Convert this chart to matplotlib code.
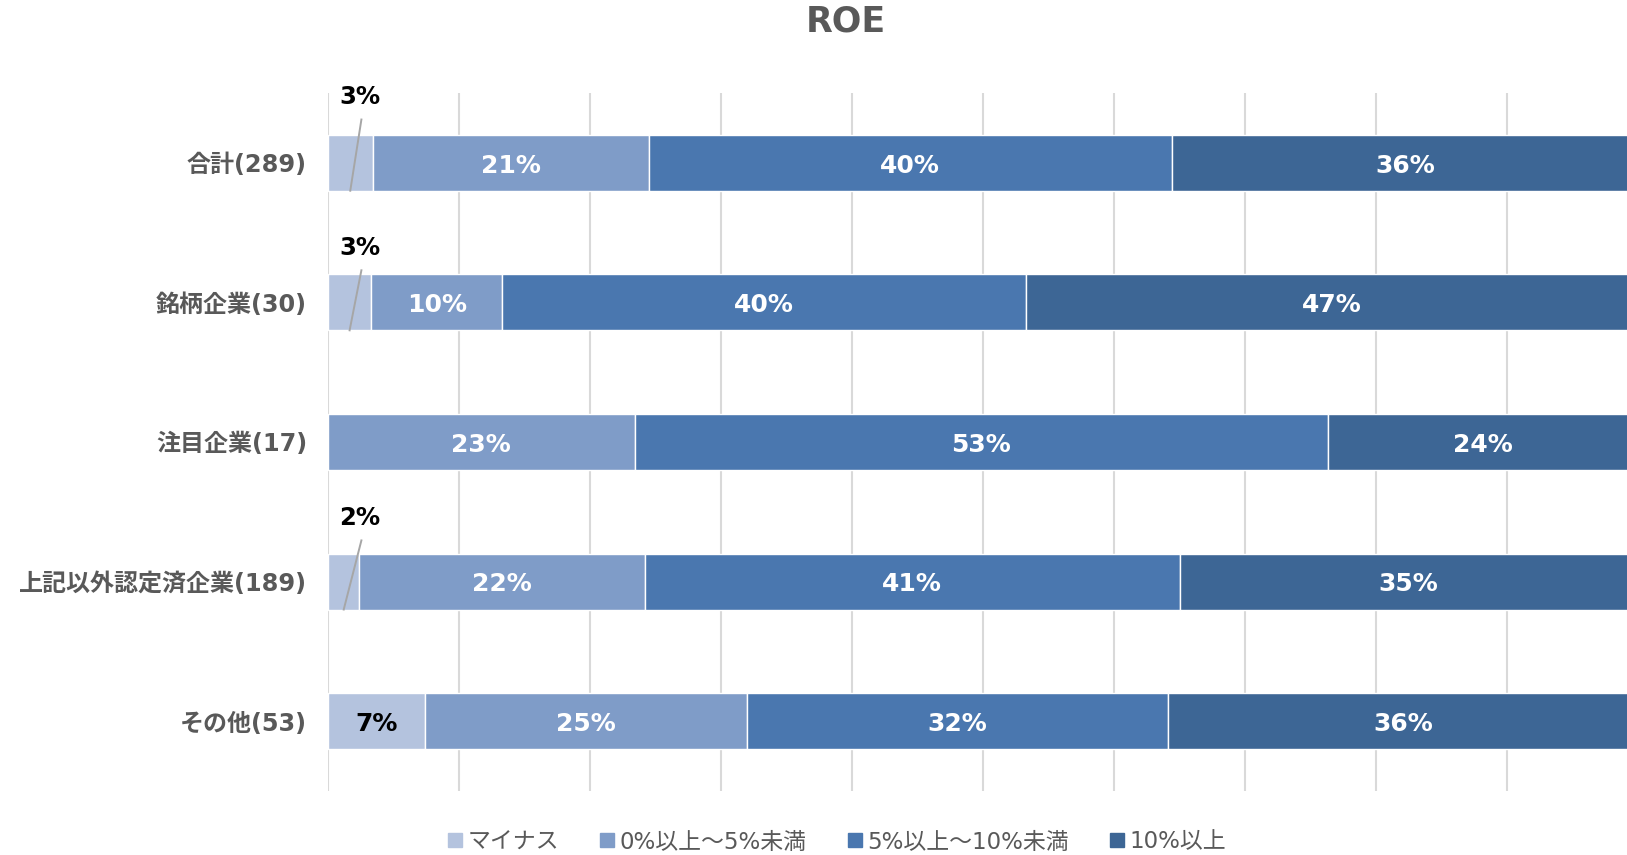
import numpy as np
import matplotlib.pyplot as plt
from matplotlib.lines import Line2D

# DejaVu for latin/digits (close to Meiryo's Verdana-like digits), CJK as fallback
plt.rcParams['font.family'] = ['DejaVu Sans', 'Noto Sans CJK JP']

categories = ['合計(289)', '銘柄企業(30)', '注目企業(17)', '上記以外認定済企業(189)', 'その他(53)']
series = ['マイナス', '0%以上～5%未満', '5%以上～10%未満', '10%以上']
minus = [3.4, 3.3, 0.0, 2.4, 7.4]
low = [21.1, 10.0, 23.4, 21.8, 24.6]
mid = [39.9, 40.0, 52.9, 40.8, 32.1]
high = [35.6, 46.7, 23.7, 35.0, 35.9]
colors = ['#B4C3DE', '#7F9CC8', '#4A77AF', '#3D6695']

# callouts for the tiny "マイナス" segments: (category index, label height above center)
callouts = [(0, 0.47), (1, 0.39), (3, 0.455)]

fig = plt.figure(figsize=(16.27, 8.55), dpi=100)
ax = fig.add_axes([328/1627, 64/855, 1310/1627, 698/855])

y = np.arange(len(categories))
data = [minus, low, mid, high]
left = np.zeros(len(categories))
for k, vals in enumerate(data):
    vals = np.array(vals)
    ax.barh(y, vals, left=left, height=0.4, color=colors[k], edgecolor='white',
            linewidth=1, zorder=3)
    for i, v in enumerate(vals):
        if v >= 5:
            tc = 'black' if k == 0 else 'white'
            ax.text(left[i] + v / 2, y[i] + 0.02, f"{v:.0f}%", ha='center', va='center',
                    color=tc, fontsize=18, fontweight='bold', zorder=4)
    left += vals

for i, dy in callouts:
    v = minus[i]
    lx = 2.45
    ax.text(lx, y[i] - dy, f"{v:.0f}%", ha='center', va='center', color='black',
            fontsize=17.5, fontweight='bold', zorder=4)
    ax.plot([v / 2, lx + 0.1], [y[i] + 0.2, y[i] - dy + 0.16], color='#A6A6A6',
            lw=1.4, zorder=5)

ax.set_xlim(0, 100)
ax.set_ylim(len(categories) - 0.5, -0.5)
ax.set_xticks(np.arange(0, 101, 10))
ax.xaxis.grid(True, color='#D9D9D9', lw=1.5, zorder=0)
ax.tick_params(axis='x', length=0, labelbottom=False)
ax.tick_params(axis='y', length=0, pad=15)
ax.set_yticks(y)
ax.set_yticklabels(categories, fontsize=17.3, fontweight='bold', color='#595959')
for s in ax.spines.values():
    s.set_visible(False)

fig.text(846/1627, 1 - 22/855, 'ROE', ha='center', va='center', fontsize=25,
         fontweight='bold', color='#595959')

handles = [Line2D([], [], marker='s', ls='', color=c, markersize=10) for c in colors]
fig.legend(handles, series, loc='center', bbox_to_anchor=(835/1627, 1 - 842/855),
           ncol=4, frameon=False, fontsize=16.5, handletextpad=0.05,
           columnspacing=1.6, labelcolor='#595959', handlelength=1.0)

fig.savefig('out.png', dpi=100)
